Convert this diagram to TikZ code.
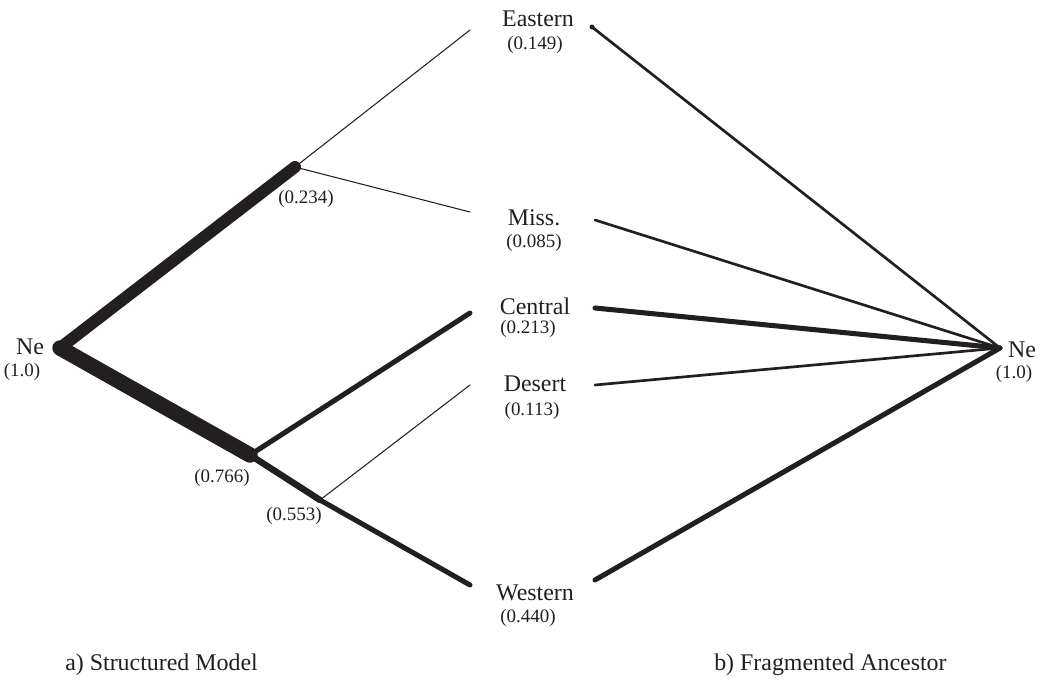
\documentclass[tikz,border=0pt]{standalone}
\usepackage{fontspec}
\setmainfont{Liberation Serif}
\usetikzlibrary{positioning}
\definecolor{ink}{HTML}{231F20}

\begin{document}
\begin{tikzpicture}[x=0.025cm,y=-0.025cm,
    branch/.style={draw=ink,line cap=round,line join=round},
    hair/.style={branch,line width=0.75pt},
    mid/.style={branch,line width=1.9pt},
    bold/.style={branch,line width=3.6pt},
    heavy/.style={branch,line width=8.5pt},
    trunk/.style={branch,line width=11pt},
    pop/.style={font=\fontsize{17}{19}\selectfont,inner sep=0pt,text=ink},
    freq/.style={font=\fontsize{13.5}{15}\selectfont,inner sep=0pt,text=ink},
    caption/.style={font=\fontsize{17}{19}\selectfont,inner sep=0pt,anchor=west,text=ink}]
  \useasboundingbox (0,0) rectangle (1040,690);

  % a) structured model
  \coordinate (ne) at (60,348);
  \coordinate (j1) at (295,167);
  \coordinate (j2) at (250,455);
  \coordinate (j3) at (320,500);
  \coordinate (eastL) at (470,30);
  \coordinate (missL) at (470,212);
  \coordinate (centL) at (470,313);
  \coordinate (desL) at (470,385);
  \coordinate (westL) at (470,585);

  \draw[hair] (j1) -- (eastL);
  \draw[hair] (j1) -- (missL);
  \draw[hair] (j3) -- (desL);
  \draw[bold] (j2) -- (centL);
  \draw[bold] (j3) -- (westL);
  \draw[branch,line width=4.6pt] (j2) -- (j3);
  \draw[heavy] (ne) -- (j1);
  \draw[trunk] (ne) -- (j2);

  \node[pop] (neA) at (30,347) {Ne};
  \node[freq] (neAf) at (22,372) {(1.0)};
  \node[freq] (f234) at (306,199) {(0.234)};
  \node[freq] (f766) at (222,478) {(0.766)};
  \node[freq] (f553) at (294,516) {(0.553)};

  % population labels
  \node[pop] (east) at (538,19) {Eastern};
  \node[freq] (eastf) at (535,45) {(0.149)};
  \node[pop] (miss) at (534,218) {Miss.};
  \node[freq] (missf) at (534,243) {(0.085)};
  \node[pop] (cent) at (535,306) {Central};
  \node[freq] (centf) at (528,329) {(0.213)};
  \node[pop] (des) at (535,384) {Desert};
  \node[freq] (desf) at (532,411) {(0.113)};
  \node[pop] (west) at (535,593) {Western};
  \node[freq] (westf) at (528,618) {(0.440)};

  % b) fragmented ancestor
  \coordinate (nb) at (1000,348);
  \coordinate (eastR) at (592,27);
  \coordinate (missR) at (595,220);
  \coordinate (centR) at (595,308);
  \coordinate (desR) at (595,385);
  \coordinate (westR) at (595,580);

  \draw[mid] (eastR) -- (nb);
  \fill[ink] (eastR) circle (2.5);
  \draw[mid] (missR) -- (nb);
  \draw[bold] (centR) -- (nb);
  \draw[mid] (desR) -- (nb);
  \draw[bold] (westR) -- (nb);

  \node[pop] (neB) at (1022,350) {Ne};
  \node[freq] (neBf) at (1014,374) {(1.0)};

  \node[caption] (capA) at (65,665) {a) Structured Model};
  \node[caption] (capB) at (714,665) {b) Fragmented Ancestor};
\end{tikzpicture}
\end{document}
